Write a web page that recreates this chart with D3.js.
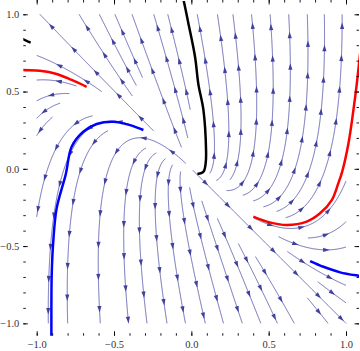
<!DOCTYPE html>
<html>
<head>
<meta charset="utf-8">
<script src="https://cdn.jsdelivr.net/npm/d3@7"></script>
<style>
body { margin: 0; background: #fff; }
svg { display: block; }
</style>
</head>
<body>
<script>
// stream field  x' = x - y ,  y' = 3x + 5y
var fieldMatrix = [[1, -1], [3, 5]];

var xTicks = [-1, -0.5, 0, 0.5, 1];
var yTicks = [-1, -0.5, 0, 0.5, 1];
var minorTicks = d3.range(-10, 11).map(function(i) { return i / 10; });

// where the streams visibly end (heads)
var streamSeeds = [
    [0.6, -0.6], [-0.35, 0.2],
    [-0.97, 0.99], [-0.72, 0.99], [-0.59, 0.99], [-0.49, 0.99], [-0.38, 0.99], [-0.24, 0.99],
    [-0.15, 0.99], [-0.07, 0.99], [0.04, 0.99], [0.17, 0.99], [0.27, 0.99], [0.39, 0.99],
    [0.51, 0.99], [0.63, 0.99], [0.75, 0.99], [0.86, 0.99], [0.975, 0.99],
    [-0.925, -0.99], [-0.8, -0.99], [-0.667, -0.99], [-0.53, -0.99], [-0.407, -0.99], [-0.288, -0.99],
    [-0.159, -0.99], [-0.04, -0.99], [0.088, -0.99], [0.205, -0.99], [0.326, -0.99], [0.445, -0.99],
    [0.552, -0.99], [0.66, -0.99], [0.876, -0.99], [0.99, -0.99],
    [-0.99, 0.91], [-0.99, 0.73], [-0.99, 0.575], [-0.99, 0.445], [-0.99, 0.337], [-0.99, 0.23],
    [-0.99, -0.25], [-0.99, -0.69],
    [0.99, -0.75], [0.99, -0.86]
];

// solution curves
var blackCurve = [[-0.058, 1.12], [-0.05, 1.09], [-0.021, 0.95], [0.024, 0.724], [0.045, 0.55],
    [0.078, 0.381], [0.095, 0.122], [0.093, 0.04], [0.078, -0.019], [0.039, -0.034]];
var blackStub = [[-1.1, 0.846], [-1.087, 0.838], [-1.039, 0.816]];
var redLeft = [[-1.1, 0.642], [-1.087, 0.639], [-0.979, 0.635], [-0.871, 0.614], [-0.774, 0.575], [-0.677, 0.531]];
var redRight = [[0.401, -0.31], [0.488, -0.342], [0.617, -0.364], [0.746, -0.342], [0.832, -0.288],
    [0.908, -0.202], [0.95, -0.094], [0.975, -0.02], [1.016, 0.165], [1.048, 0.381], [1.07, 0.553], [1.084, 0.68], [1.095, 0.78]];
var blueLeft = [[-0.31, 0.251], [-0.397, 0.283], [-0.505, 0.305], [-0.612, 0.29], [-0.699, 0.24],
    [-0.774, 0.143], [-0.812, -0.035], [-0.871, -0.256], [-0.893, -0.472], [-0.903, -0.687], [-0.905, -0.99], [-0.905, -1.12]];
var blueRight = [[0.768, -0.597], [0.854, -0.634], [0.962, -0.67], [1.08, -0.692], [1.1, -0.695]];

var W = 360, H = 351;
var svg = d3.select("body").append("svg").attr("width", W).attr("height", H);

var x = d3.scaleLinear().domain([-1.0866, 1.084]).range([23.3, 359]);
var y = d3.scaleLinear().domain([-1.080, 1.086]).range([335.7, 1]);

svg.append("clipPath").attr("id", "frame")
    .append("rect")
    .attr("x", x.range()[0]).attr("y", y.range()[1])
    .attr("width", x.range()[1] - x.range()[0])
    .attr("height", y.range()[0] - y.range()[1]);

// ---- streamlines (even spacing) ----
var dsep = 0.12, dtest = 0.06, h = 0.004;
var cells = new Map();

function vel(p) {
    return [fieldMatrix[0][0] * p[0] + fieldMatrix[0][1] * p[1],
            fieldMatrix[1][0] * p[0] + fieldMatrix[1][1] * p[1]];
}
function unitDir(p, sgn) {
    var v = vel(p), n = Math.hypot(v[0], v[1]);
    if (n < 1e-9) return null;
    return [sgn * v[0] / n, sgn * v[1] / n];
}
function rk4(p, sgn) {
    var k1 = unitDir(p, sgn); if (!k1) return null;
    var k2 = unitDir([p[0] + h / 2 * k1[0], p[1] + h / 2 * k1[1]], sgn); if (!k2) return null;
    var k3 = unitDir([p[0] + h / 2 * k2[0], p[1] + h / 2 * k2[1]], sgn); if (!k3) return null;
    var k4 = unitDir([p[0] + h * k3[0], p[1] + h * k3[1]], sgn); if (!k4) return null;
    return [p[0] + h / 6 * (k1[0] + 2 * k2[0] + 2 * k3[0] + k4[0]),
            p[1] + h / 6 * (k1[1] + 2 * k2[1] + 2 * k3[1] + k4[1])];
}
function cellOf(p) { return [Math.floor((p[0] + 1.2) / dsep), Math.floor((p[1] + 1.2) / dsep)]; }
function addPoints(pts, id) {
    pts.forEach(function(p) {
        var c = cellOf(p), k = c[0] + "," + c[1];
        if (!cells.has(k)) cells.set(k, []);
        cells.get(k).push([p[0], p[1], id]);
    });
}
function nearest(p, id) {
    var c = cellOf(p), best = Infinity;
    for (var di = -1; di <= 1; di++) for (var dj = -1; dj <= 1; dj++) {
        var arr = cells.get((c[0] + di) + "," + (c[1] + dj));
        if (!arr) continue;
        for (var i = 0; i < arr.length; i++) {
            if (arr[i][2] === id) continue;
            var d = Math.hypot(arr[i][0] - p[0], arr[i][1] - p[1]);
            if (d < best) best = d;
        }
    }
    return best;
}
function clipBox(p, q) {
    var t = 1;
    [0, 1].forEach(function(k) {
        if (q[k] > 1) t = Math.min(t, (1 - p[k]) / (q[k] - p[k]));
        if (q[k] < -1) t = Math.min(t, (-1 - p[k]) / (q[k] - p[k]));
    });
    return [p[0] + t * (q[0] - p[0]), p[1] + t * (q[1] - p[1])];
}
function trace(seed, id) {
    var halves = [[], []];
    [1, -1].forEach(function(sgn, hi) {
        var p = seed;
        for (var s = 0; s < 1200; s++) {
            var q = rk4(p, sgn);
            if (!q) break;
            if (Math.abs(q[0]) > 1 || Math.abs(q[1]) > 1) { halves[hi].push(clipBox(p, q)); break; }
            if (Math.hypot(q[0], q[1]) < 0.012) break;
            if (nearest(q, id) < dtest) break;
            halves[hi].push(q);
            p = q;
        }
    });
    return halves[1].reverse().concat([seed], halves[0]);
}
function arcLen(pts) {
    var L = 0;
    for (var i = 1; i < pts.length; i++) L += Math.hypot(pts[i][0] - pts[i - 1][0], pts[i][1] - pts[i - 1][1]);
    return L;
}

var lines = [];
function tryLine(seed, minGap, minLen) {
    if (Math.abs(seed[0]) > 1 || Math.abs(seed[1]) > 1) return;
    if (Math.hypot(seed[0], seed[1]) < 0.05) return;
    if (nearest(seed, -1) < minGap) return;
    var pts = trace(seed, lines.length);
    if (arcLen(pts) < minLen) return;
    addPoints(pts, lines.length);
    lines.push(pts);
}
streamSeeds.forEach(function(s) { tryLine(s, dtest * 1.3, 0.08); });
for (var li = 0; li < lines.length; li++) {
    var pts = lines[li];
    for (var k = 0; k < pts.length; k += 8) {
        var a = pts[Math.max(k - 1, 0)], b = pts[Math.min(k + 1, pts.length - 1)];
        var tx = b[0] - a[0], ty = b[1] - a[1], n = Math.hypot(tx, ty);
        if (!n) continue;
        tryLine([pts[k][0] - ty / n * dsep, pts[k][1] + tx / n * dsep], dsep, 0.15);
        tryLine([pts[k][0] + ty / n * dsep, pts[k][1] - tx / n * dsep], dsep, 0.15);
    }
}

var streamColor = "#40409e";
var line = d3.line().x(function(d) { return x(d[0]); }).y(function(d) { return y(d[1]); });

var streams = svg.append("g").attr("clip-path", "url(#frame)");
streams.selectAll(".stream")
    .data(lines)
    .enter().append("path")
    .attr("class", "stream")
    .attr("d", line)
    .attr("fill", "none")
    .attr("stroke", streamColor)
    .attr("stroke-opacity", 0.8)
    .attr("stroke-width", 0.95);

// arrowheads along each stream
var arrows = [];
lines.forEach(function(pts) {
    var px = pts.map(function(p) { return [x(p[0]), y(p[1])]; });
    var cum = [0];
    for (var i = 1; i < px.length; i++) cum.push(cum[i - 1] + Math.hypot(px[i][0] - px[i - 1][0], px[i][1] - px[i - 1][1]));
    var L = cum[cum.length - 1];
    var spots = [];
    for (var s = 18; s < L - 3; s += 32) spots.push(s);
    if (!spots.length && L > 10) spots.push(L / 2);
    var j = 1;
    spots.forEach(function(s) {
        while (j < cum.length - 1 && cum[j] < s) j++;
        var p0 = px[Math.max(j - 3, 0)], p1 = px[Math.min(j + 2, px.length - 1)];
        var dx = p1[0] - p0[0], dy = p1[1] - p0[1], n = Math.hypot(dx, dy);
        if (!n) return;
        arrows.push({ p: px[j], ux: dx / n, uy: dy / n });
    });
});
streams.selectAll(".arrow")
    .data(arrows)
    .enter().append("path")
    .attr("class", "arrow")
    .attr("d", function(d) {
        var len = 6.5, hw = 2.1;
        var tip = [d.p[0] + d.ux * len / 2, d.p[1] + d.uy * len / 2];
        var bx = d.p[0] - d.ux * len / 2, by = d.p[1] - d.uy * len / 2;
        return "M" + tip[0] + "," + tip[1] +
            "L" + (bx - d.uy * hw) + "," + (by + d.ux * hw) +
            "L" + (bx + d.uy * hw) + "," + (by - d.ux * hw) + "Z";
    })
    .attr("fill", streamColor);

// solution curves
var smooth = d3.line().curve(d3.curveCatmullRom)
    .x(function(d) { return x(d[0]); }).y(function(d) { return y(d[1]); });
var sols = svg.append("g").attr("clip-path", "url(#frame)");
[[redLeft, "#ff0000"], [redRight, "#ff0000"], [blueLeft, "#0000ff"], [blueRight, "#0000ff"],
 [blackCurve, "#000000"], [blackStub, "#000000"]].forEach(function(c) {
    sols.append("path")
        .attr("d", smooth(c[0]))
        .attr("fill", "none")
        .attr("stroke", c[1])
        .attr("stroke-width", 2.5)
        .attr("stroke-linecap", "butt");
});

// frame + ticks
function styleAxis(g) {
    g.select(".domain").remove();
    g.selectAll("line").attr("stroke", "#000").attr("stroke-width", 0.9);
    g.selectAll("text")
        .style("font-family", "'Liberation Serif', 'DejaVu Serif', serif")
        .style("font-size", "10.5px")
        .attr("fill", "#333");
}
var fmt = d3.format(".1f");
var bottom = y.range()[0], top = y.range()[1], left = x.range()[0], right = x.range()[1];

svg.append("g").attr("transform", "translate(0," + bottom + ")")
    .call(d3.axisBottom(x).tickValues(xTicks).tickSizeInner(-4.5).tickSizeOuter(0).tickPadding(5).tickFormat(fmt))
    .call(styleAxis);
svg.append("g").attr("transform", "translate(0," + bottom + ")")
    .call(d3.axisBottom(x).tickValues(minorTicks).tickSizeInner(-2.5).tickSizeOuter(0).tickFormat(""))
    .call(styleAxis);
svg.append("g").attr("transform", "translate(" + left + ",0)")
    .call(d3.axisLeft(y).tickValues(yTicks).tickSizeInner(-4.5).tickSizeOuter(0).tickPadding(4).tickFormat(fmt))
    .call(styleAxis);
svg.append("g").attr("transform", "translate(" + left + ",0)")
    .call(d3.axisLeft(y).tickValues(minorTicks).tickSizeInner(-2.5).tickSizeOuter(0).tickFormat(""))
    .call(styleAxis);
svg.append("g").attr("transform", "translate(0," + top + ")")
    .call(d3.axisTop(x).tickValues(xTicks).tickSizeInner(-4.5).tickSizeOuter(0).tickFormat(""))
    .call(styleAxis);
svg.append("g").attr("transform", "translate(0," + top + ")")
    .call(d3.axisTop(x).tickValues(minorTicks).tickSizeInner(-2.5).tickSizeOuter(0).tickFormat(""))
    .call(styleAxis);
svg.append("g").attr("transform", "translate(" + right + ",0)")
    .call(d3.axisRight(y).tickValues(yTicks).tickSizeInner(-4.5).tickSizeOuter(0).tickFormat(""))
    .call(styleAxis);
svg.append("g").attr("transform", "translate(" + right + ",0)")
    .call(d3.axisRight(y).tickValues(minorTicks).tickSizeInner(-2.5).tickSizeOuter(0).tickFormat(""))
    .call(styleAxis);

svg.append("rect")
    .attr("x", left).attr("y", top)
    .attr("width", right - left).attr("height", bottom - top)
    .attr("fill", "none").attr("stroke", "#000").attr("stroke-width", 1);
</script>
</body>
</html>
